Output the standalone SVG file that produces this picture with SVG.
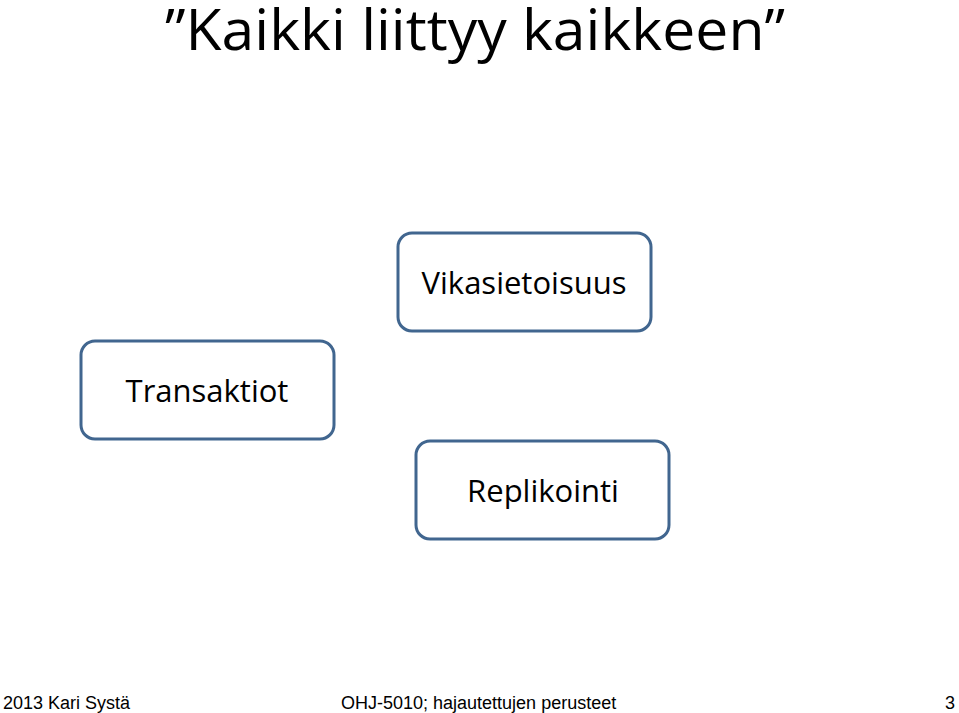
<svg xmlns="http://www.w3.org/2000/svg" width="959" height="713" viewBox="0 0 959 713">
<style>
.box{fill:#fff;stroke:#41668f;stroke-width:3}
.lbl{font-family:"Open Sans","Liberation Sans",sans-serif;font-size:31px;fill:#000;text-anchor:middle}
.ft{font-family:"Liberation Sans",sans-serif;font-size:18px;fill:#000}
</style>
<rect width="959" height="713" fill="#fff"/>
<text x="165" y="50" font-family="Open Sans,Liberation Sans,sans-serif" font-size="56" textLength="620" lengthAdjust="spacingAndGlyphs">”Kaikki liittyy kaikkeen”</text>
<g id="connectors"></g>
<g id="n1"><rect class="box" x="398" y="233" width="253" height="98" rx="14"/><text class="lbl" x="524" y="294">Vikasietoisuus</text></g>
<g id="n2"><rect class="box" x="81" y="341" width="253" height="98" rx="14"/><text class="lbl" x="207" y="402">Transaktiot</text></g>
<g id="n3"><rect class="box" x="416" y="441" width="253" height="98" rx="14"/><text class="lbl" x="543" y="502">Replikointi</text></g>
<text class="ft" x="3" y="709">2013 Kari Systä</text>
<text class="ft" x="341" y="709">OHJ-5010; hajautettujen perusteet</text>
<text class="ft" x="945" y="709">3</text>
</svg>
